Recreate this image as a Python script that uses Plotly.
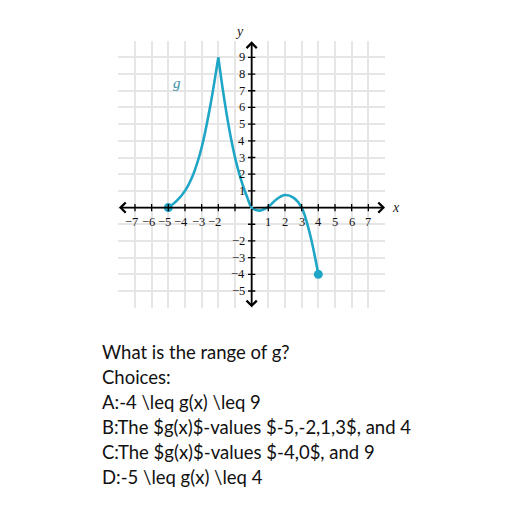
import plotly.graph_objects as go

# ---- data ----
left_x = [-5, -4.5, -4, -3.5, -3, -2.5, -2]
left_y = [0, 0.4, 1.0, 2.0, 3.6, 6.0, 9]
right_x = [-2, -1.75, -1.5, -1.25, -1, -0.75, -0.5, -0.25, 0, 0.5, 1, 1.5, 2, 2.5, 3, 3.5, 4]
right_y = [9, 7.2, 5.6, 4.2, 3.02, 2.05, 1.25, 0.58, 0, -0.18, 0.05, 0.5, 0.75, 0.6, 0, -1.6, -4]
end_x = [-5, 4]
end_y = [0, -4]

x_tick_marks = [-7, -6, -5, -4, -3, -2, -1, 1, 2, 3, 4, 5, 6, 7]
y_tick_marks = [-5, -4, -3, -2, -1, 1, 2, 3, 4, 5, 6, 7, 8, 9]
x_tick_labels = [-7, -6, -5, -4, -3, -2, 1, 2, 3, 4, 5, 6, 7]
y_tick_labels = [9, 8, 7, 6, 5, 4, 3, 2, 1, -2, -3, -4, -5]

question_lines = [
    "What is the range of g?",
    "Choices:",
    "A:-4 \\leq g(x) \\leq 9",
    "B:The $g(x)$-values $-5,-2,1,3$, and 4",
    "C:The $g(x)$-values $-4,0$, and 9",
    "D:-5 \\leq g(x) \\leq 4",
]

CURVE = "#1fa6c6"
W = H = 512
X0, X1 = 118.3, 385.0   # pixel span of x in [-8, 8]
Y0, Y1 = 40.7, 307.7    # pixel span of y in [10, -6]

fig = go.Figure()
fig.add_trace(go.Scatter(x=left_x, y=left_y, mode="lines",
                         line=dict(color=CURVE, width=2.6, shape="spline", smoothing=1),
                         hoverinfo="skip", showlegend=False))
fig.add_trace(go.Scatter(x=right_x, y=right_y, mode="lines",
                         line=dict(color=CURVE, width=2.6, shape="spline", smoothing=1),
                         hoverinfo="skip", showlegend=False))
fig.add_trace(go.Scatter(x=end_x, y=end_y, mode="markers",
                         marker=dict(color=CURVE, size=9),
                         hoverinfo="skip", showlegend=False))

shapes = []
for t in x_tick_marks:
    shapes.append(dict(type="line", xref="x", yref="y", x0=t, x1=t, y0=-0.22, y1=0.22,
                       line=dict(color="black", width=1.3)))
for t in y_tick_marks:
    shapes.append(dict(type="line", xref="x", yref="y", x0=-0.22, x1=0.22, y0=t, y1=t,
                       line=dict(color="black", width=1.3)))

ann = []
# axes with arrowheads
for (tx, ty) in [(8.0, 0), (-7.96, 0), (0, 9.96), (0, -5.98)]:
    ann.append(dict(x=tx, y=ty, ax=0, ay=0, xref="x", yref="y", axref="x", ayref="y",
                    showarrow=True, arrowhead=4, arrowsize=1.1, arrowwidth=1.8,
                    arrowcolor="black", text=""))
lab_font = dict(family="Liberation Serif", size=12.5, color="#111111")
for v in x_tick_labels:
    txt = str(v).replace("-", "\u2212")
    ann.append(dict(x=v, y=-0.85, xref="x", yref="y", text=txt, showarrow=False,
                    font=lab_font, xanchor="center", yanchor="middle",
                    xshift=-3.5 if v < 0 else 0))
for v in y_tick_labels:
    txt = str(v).replace("-", "\u2212")
    ann.append(dict(x=-0.25, y=v, xref="x", yref="y", text=txt, showarrow=False,
                    font=lab_font, xanchor="right", yanchor="middle"))
# axis names placed in paper space (outside the data range)
ax_font = dict(family="Liberation Serif", size=14, color="#222222")
ann.append(dict(x=395.5 / W, y=1 - 207.7 / H, xref="paper", yref="paper", text="<i>x</i>",
                showarrow=False, font=ax_font, xanchor="center", yanchor="middle"))
ann.append(dict(x=239.5 / W, y=1 - 31 / H, xref="paper", yref="paper", text="<i>y</i>",
                showarrow=False, font=ax_font, xanchor="center", yanchor="middle"))
ann.append(dict(x=-4.45, y=7.45, xref="x", yref="y", text="<i>g</i>", showarrow=False,
                font=dict(family="Liberation Serif", size=15, color="#3a8fa8")))

line_centers = [352, 377, 402, 427, 452, 476.5]
for txt, cy in zip(question_lines, line_centers):
    ann.append(dict(x=100 / W, y=1 - cy / H, xref="paper", yref="paper", text=txt,
                    showarrow=False, xanchor="left", yanchor="middle",
                    font=dict(family="Lato", size=18.5, color="#111111")))

fig.update_layout(
    width=W, height=H, margin=dict(l=0, r=0, t=0, b=0),
    paper_bgcolor="white", plot_bgcolor="white",
    xaxis=dict(range=[-8, 8], domain=[X0 / W, X1 / W], dtick=1, tick0=0,
               showgrid=True, gridcolor="#e6e6e6", gridwidth=2, zeroline=False,
               showticklabels=False, ticks="", fixedrange=True),
    yaxis=dict(range=[-6, 10], domain=[1 - Y1 / H, 1 - Y0 / H], dtick=1, tick0=0,
               showgrid=True, gridcolor="#e6e6e6", gridwidth=2, zeroline=False,
               showticklabels=False, ticks="", fixedrange=True),
    shapes=shapes, annotations=ann,
)

fig.write_html("out.html", config={"displayModeBar": False},
               post_script="document.body.style.margin='0';")
